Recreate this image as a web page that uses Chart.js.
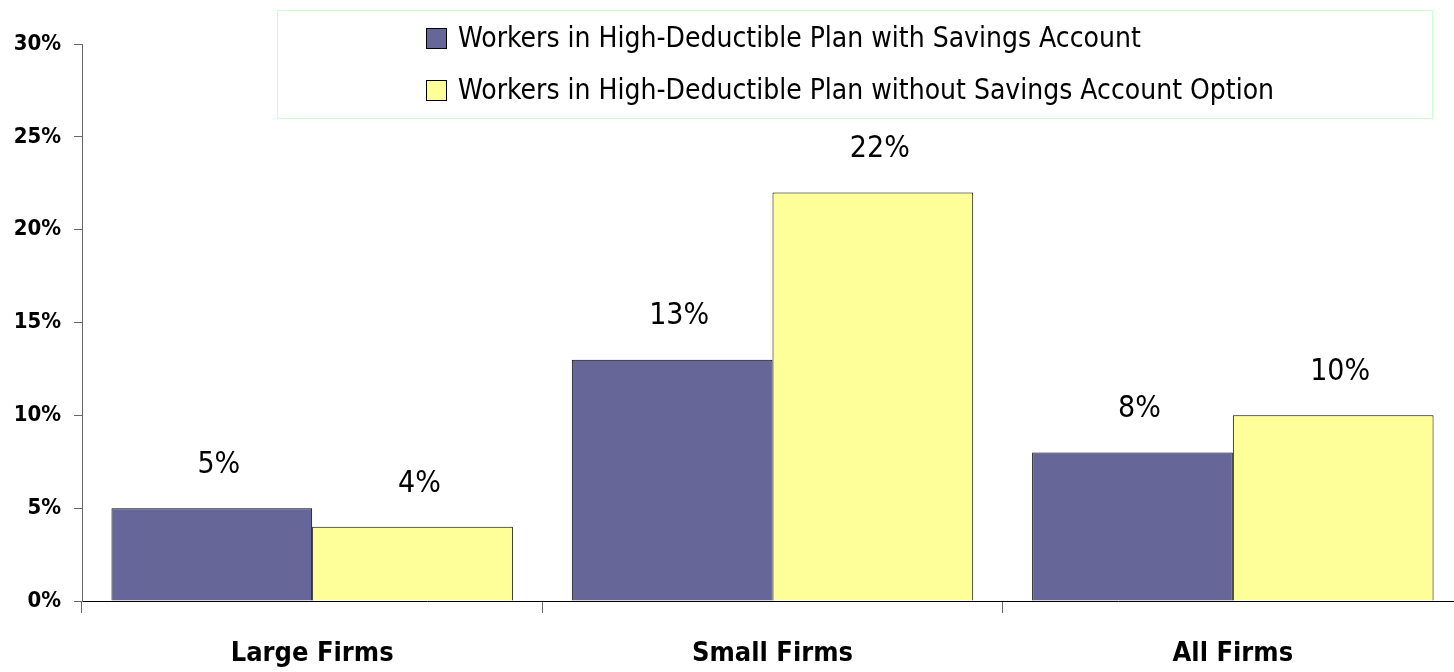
<!DOCTYPE html>
<html>
<head>
<meta charset="utf-8">
<script src="https://cdn.jsdelivr.net/npm/chart.js@4.4.0/dist/chart.umd.min.js"></script>
<style>
  html, body { margin: 0; padding: 0; background: #fff; overflow: hidden; }
  #wrap { width: 1464px; height: 672px; position: relative; }
</style>
</head>
<body>
<div id="wrap"><canvas id="hdChart"></canvas></div>
<script>
// --- data ---
const categories = ['Large Firms', 'Small Firms', 'All Firms'];
const withSavings = [5, 13, 8];
const withoutSavings = [4, 22, 10];
const seriesNames = [
    'Workers in High-Deductible Plan with Savings Account',
    'Workers in High-Deductible Plan without Savings Account Option'
];
const yTicks = [0, 5, 10, 15, 20, 25, 30];

const FONT = '"Liberation Sans Narrow", "Arial Narrow", "DejaVu Sans Condensed", sans-serif';
const NAVY = '#666699';
const YELLOW = '#ffff99';

// value labels above each bar
const valueLabels = {
    id: 'valueLabels',
    afterDatasetsDraw(chart) {
        const ctx = chart.ctx;
        ctx.save();
        ctx.font = '30px ' + FONT;
        ctx.fillStyle = '#000';
        ctx.textAlign = 'center';
        ctx.textBaseline = 'middle';
        chart.data.datasets.forEach((ds, i) => {
            chart.getDatasetMeta(i).data.forEach((bar, j) => {
                ctx.fillText(ds.data[j] + '%', bar.x + 7, bar.y - 43);
            });
        });
        ctx.restore();
    }
};

// boxed legend sitting inside the plot
const boxLegend = {
    id: 'boxLegend',
    afterDraw(chart) {
        const ctx = chart.ctx;
        ctx.save();
        ctx.strokeStyle = '#ccffcc';
        ctx.lineWidth = 1;
        ctx.strokeRect(277.5, 10.5, 1155, 108);
        ctx.font = '28px ' + FONT;
        ctx.textBaseline = 'middle';
        ctx.textAlign = 'left';
        const colors = [NAVY, YELLOW];
        const rows = [39, 91];
        seriesNames.forEach((name, i) => {
            ctx.fillStyle = colors[i];
            ctx.fillRect(426, rows[i] - 11, 21, 21);
            ctx.strokeStyle = '#000';
            ctx.strokeRect(426.5, rows[i] - 10.5, 20, 20);
            ctx.fillStyle = '#000';
            ctx.fillText(name, 458, rows[i] + 1);
        });
        ctx.restore();
    }
};

new Chart(document.getElementById('hdChart'), {
    type: 'bar',
    data: {
        labels: categories,
        datasets: [
            { label: seriesNames[0], data: withSavings, backgroundColor: NAVY, borderColor: '#000', borderWidth: 1 },
            { label: seriesNames[1], data: withoutSavings, backgroundColor: YELLOW, borderColor: '#000', borderWidth: 1 }
        ]
    },
    options: {
        responsive: true,
        maintainAspectRatio: false,
        animation: false,
        layout: { padding: { top: 44, right: 1, left: 0, bottom: 0 } },
        datasets: { bar: { categoryPercentage: 0.872, barPercentage: 1 } },
        plugins: { legend: { display: false }, tooltip: { enabled: false } },
        scales: {
            x: {
                afterFit: s => { s.height = 71; },
                grid: { offset: true, drawOnChartArea: false, tickLength: 12, color: '#666', lineWidth: 1 },
                border: { color: '#000', width: 1 },
                ticks: { color: '#000', padding: 25, font: { family: FONT, size: 27, weight: 'bold' } }
            },
            y: {
                min: 0,
                max: 30,
                afterFit: s => { s.width = 82; },
                afterBuildTicks: s => { s.ticks = yTicks.map(v => ({ value: v })); },
                grid: { drawOnChartArea: false, tickLength: 8, color: '#666' },
                border: { color: '#666', width: 1 },
                ticks: {
                    color: '#000',
                    padding: 13,
                    font: { family: FONT, size: 22, weight: 'bold' },
                    callback: v => v + '%'
                }
            }
        }
    },
    plugins: [valueLabels, boxLegend]
});
</script>
</body>
</html>
